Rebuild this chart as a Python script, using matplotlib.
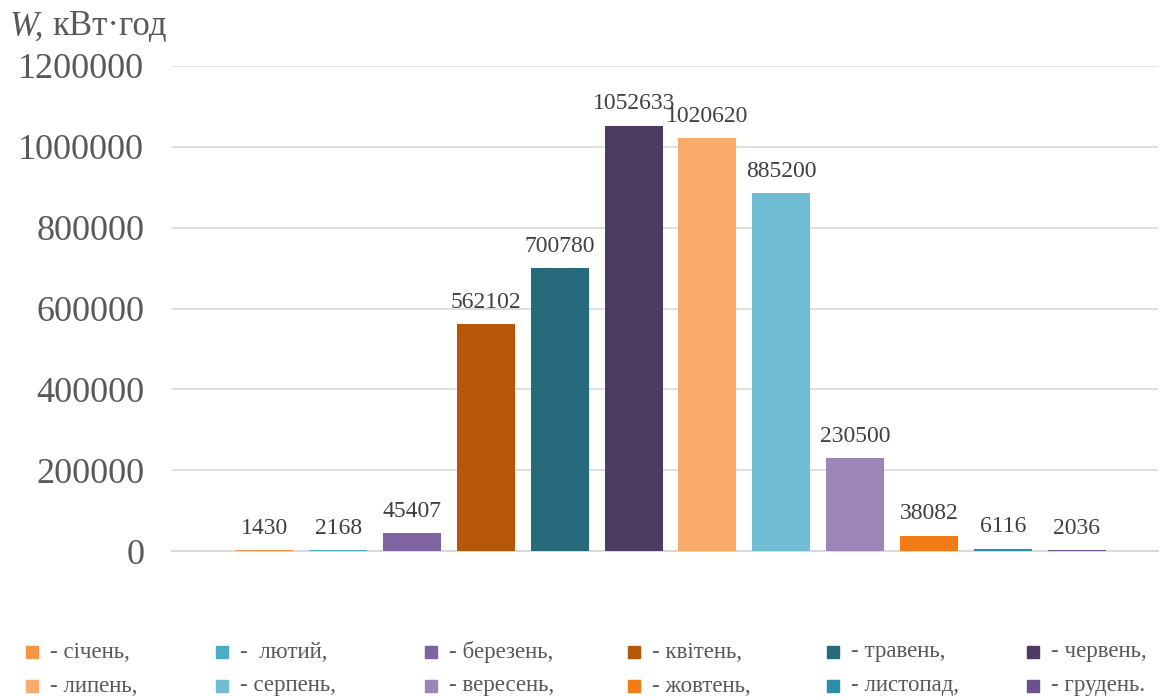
import matplotlib
matplotlib.use("Agg")
import matplotlib.pyplot as plt
from matplotlib.patches import Rectangle

months = ["січень", "лютий", "березень", "квітень", "травень", "червень",
          "липень", "серпень", "вересень", "жовтень", "листопад", "грудень"]
values = [1430, 2168, 45407, 562102, 700780, 1052633,
          1020620, 885200, 230500, 38082, 6116, 2036]
colors = ["#F79646", "#4BACC6", "#8064A2", "#B65708", "#276A7C", "#4D3B62",
          "#F9AB6B", "#70BCD2", "#9C86B9", "#F47C16", "#2C8EAA", "#6B4F8F"]
legend_labels = ["- січень,", "-  лютий,", "- березень,", "- квітень,", "- травень,", "- червень,",
                 "- липень,", "- серпень,", "- вересень,", "- жовтень,", "- листопад,", "- грудень."]
yticks = [0, 200000, 400000, 600000, 800000, 1000000, 1200000]

plt.rcParams['font.family'] = ['Liberation Serif', 'DejaVu Serif']

W, H = 1161, 697
fig = plt.figure(figsize=(W / 100, H / 100), dpi=100)
ax = fig.add_axes([172 / W, 1 - 551 / H, (1158 - 172) / W, (551 - 66) / H])

x = list(range(len(values)))
bars = ax.bar(x, values, width=0.786, color=colors, zorder=3)
for xi, v in zip(x, values):
    ax.annotate(str(v), (xi, v), xytext=(0, 8), textcoords="offset points",
                ha="center", va="bottom", fontsize=17, color="#404040")

ax.set_xlim(-1.25, 12.1)
ax.set_ylim(0, 1200000)
ax.set_yticks(yticks)
ax.set_yticklabels([str(t) for t in yticks], fontsize=26, color="#595959")
ax.tick_params(axis="y", length=0, pad=20)
ax.set_xticks([])
ax.grid(axis="y", color="#D9D9D9", linewidth=1.2, zorder=0)
for s in ["top", "right", "left"]:
    ax.spines[s].set_visible(False)
ax.spines["bottom"].set_color("#D9D9D9")
ax.spines["bottom"].set_linewidth(1.5)

fig.text(10 / W, 1 - 27 / H, "W,", fontsize=25, style="italic", color="#595959",
         va="center", ha="left")
fig.text(52 / W, 1 - 27 / H, "кВт·год", fontsize=25, color="#595959",
         va="center", ha="left")

xs = [32, 222, 431, 634, 833, 1033]
ys = [652, 686]
for i, (lab, c) in enumerate(zip(legend_labels, colors)):
    row, col = divmod(i, 6)
    cx, cy = xs[col], ys[row]
    fig.patches.append(Rectangle(((cx - 6) / W, 1 - (cy + 6) / H), 12 / W, 12 / H,
                                 transform=fig.transFigure, color=c, figure=fig))
    fig.text((cx + 18) / W, 1 - cy / H, lab, fontsize=16.5, color="#595959",
             va="center", ha="left")

fig.savefig("out.png", dpi=100)
